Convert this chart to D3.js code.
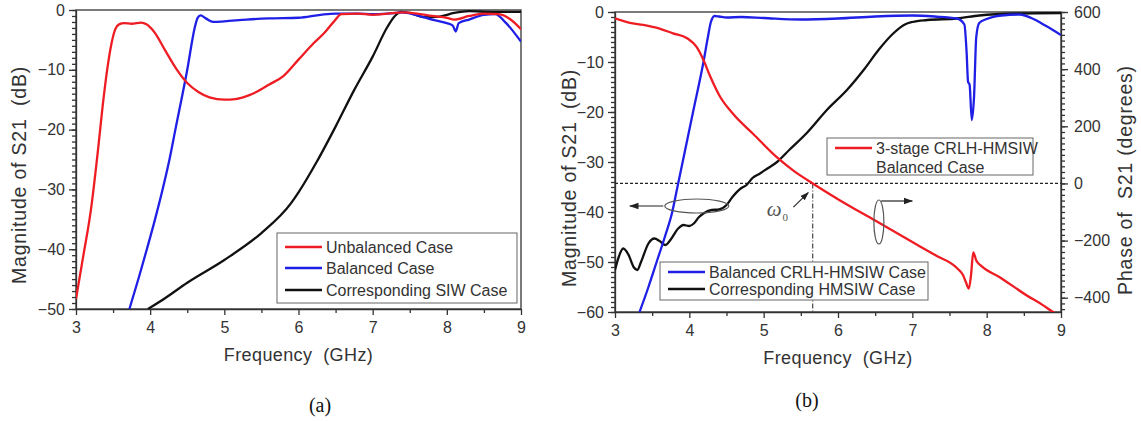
<!DOCTYPE html>
<html>
<head>
<meta charset="utf-8">
<script src="https://cdn.jsdelivr.net/npm/d3@7"></script>
<style>
  body { margin: 0; background: #fff; }
  svg text { font-family: "Liberation Sans", Arial, sans-serif; fill: #333; }
  .axis path, .axis line { stroke: #333; stroke-width: 1.3; }
  .axis text { font-size: 16px; fill: #333; }
</style>
</head>
<body>
<script>
// ---- data ----
var freqTicks  = [3, 4, 5, 6, 7, 8, 9];
var dbTicksA   = [-50, -40, -30, -20, -10, 0];
var dbTicksB   = [-60, -50, -40, -30, -20, -10, 0];
var phaseTicks = [-400, -200, 0, 200, 400, 600];

// (a) Unbalanced case
var unbalF = [3.0, 3.1, 3.2, 3.3, 3.36, 3.42, 3.48, 3.53, 3.58, 3.65, 3.75, 3.88, 3.95, 4.05, 4.2, 4.35, 4.5, 4.65, 4.8, 5.0, 5.15, 5.3, 5.45, 5.6, 5.8, 6.0, 6.2, 6.35, 6.48, 6.58, 6.8, 7.0, 7.2, 7.4, 7.6, 7.8, 8.0, 8.1, 8.3, 8.5, 8.7, 8.85, 9.0];
var unbalV = [-48.3, -41, -33.5, -23, -16, -10, -5.5, -3.2, -2.4, -2.2, -2.3, -2.1, -2.4, -3.6, -6.7, -9.8, -12.2, -13.7, -14.6, -15.0, -14.9, -14.4, -13.6, -12.5, -11.0, -8.3, -5.6, -3.8, -1.9, -0.7, -0.6, -0.8, -0.6, -0.4, -0.6, -1.0, -1.3, -1.6, -1.0, -0.6, -0.7, -1.5, -3.2];
// (a) Balanced case
var balF = [3.72, 3.85, 3.96, 4.07, 4.16, 4.25, 4.34, 4.5, 4.6, 4.64, 4.68, 4.75, 4.85, 5.0, 5.3, 5.6, 6.0, 6.3, 6.5, 6.8, 7.0, 7.2, 7.4, 7.6, 7.8, 8.0, 8.08, 8.12, 8.16, 8.3, 8.5, 8.65, 8.8, 9.0];
var balV = [-50, -44.6, -39.8, -34.8, -30.4, -25.6, -20, -10, -3, -1.3, -0.9, -1.4, -2.0, -1.9, -1.6, -1.4, -1.3, -0.8, -0.6, -0.6, -0.7, -0.6, -0.4, -0.9, -1.6, -2.2, -2.6, -3.6, -2.2, -1.6, -0.8, -0.7, -2.2, -5.3];
// (a) Corresponding SIW case
var siwF = [3.97, 4.2, 4.5, 5.0, 5.5, 5.9, 6.0, 6.25, 6.5, 6.75, 7.0, 7.2, 7.3, 7.38, 7.5, 7.7, 7.9, 8.1, 8.3, 8.6, 9.0];
var siwV = [-50, -48.2, -45.6, -41.8, -37.3, -32.3, -30.5, -25.3, -19.5, -13.4, -7.8, -2.8, -1.0, -0.3, -0.5, -1.2, -1.1, -0.5, -0.2, -0.3, -0.3];

// (b) Balanced CRLH-HMSIW case (magnitude)
var crlhF = [3.33, 3.45, 3.56, 3.67, 3.77, 3.84, 3.91, 4.05, 4.19, 4.25, 4.29, 4.34, 4.4, 4.5, 4.7, 5.0, 5.5, 6.0, 6.5, 7.0, 7.3, 7.6, 7.7, 7.73, 7.75, 7.77, 7.8, 7.83, 7.86, 7.9, 8.0, 8.2, 8.45, 8.6, 8.8, 9.0];
var crlhV = [-60, -55, -50, -45, -40, -35, -30, -20, -10, -5, -2, -0.8, -0.9, -1.1, -1.0, -1.2, -1.5, -1.3, -0.9, -0.7, -0.9, -1.3, -2.5, -8, -14, -14.5, -21.6, -17, -5, -2.2, -1.4, -0.7, -0.5, -1.2, -2.8, -4.6];
// (b) Corresponding HMSIW case (magnitude)
var hmsiwF = [3.0, 3.05, 3.11, 3.18, 3.25, 3.3, 3.35, 3.45, 3.53, 3.6, 3.68, 3.75, 3.85, 3.92, 4.0, 4.06, 4.13, 4.2, 4.3, 4.4, 4.5, 4.58, 4.7, 4.77, 4.85, 4.95, 5.05, 5.18, 5.35, 5.58, 5.85, 6.12, 6.35, 6.55, 6.75, 6.9, 7.0, 7.2, 7.6, 7.9, 8.4, 9.0];
var hmsiwV = [-51.6, -49, -47.3, -48.5, -51, -51.6, -50, -46.3, -45.3, -45.8, -46.6, -45.5, -43.3, -42.6, -42.8, -42.3, -41, -40.2, -39.6, -39.5, -38.6, -37, -35.2, -34.6, -33.2, -32.3, -31.3, -30, -27.5, -24.2, -19.6, -15.6, -11.5, -7.5, -4.2, -2.5, -2.0, -1.6, -1.3, -0.7, -0.3, -0.2];
// (b) 3-stage CRLH-HMSIW balanced case (phase, degrees)
var phaseF = [3.0, 3.2, 3.38, 3.6, 3.78, 3.97, 4.1, 4.19, 4.28, 4.41, 4.59, 4.86, 5.18, 5.4, 5.66, 6.0, 6.5, 7.0, 7.3, 7.6, 7.68, 7.72, 7.76, 7.79, 7.82, 7.86, 7.92, 8.18, 8.54, 8.75, 8.9, 9.0];
var phaseV = [578, 562, 555, 542, 525, 508, 477, 432, 375, 305, 243, 173, 91, 45, 0, -55, -130, -205, -250, -296, -320, -345, -368, -320, -241, -270, -287, -329, -392, -425, -451, -465];

var crossFreq = 5.66;

var RED = "#ee1d23", BLUE = "#1f1fe6", BLACK = "#111";

var svg = d3.select("body").append("svg")
  .attr("width", 1141)
  .attr("height", 421);

var defs = svg.append("defs");
defs.append("marker")
  .attr("id", "arr")
  .attr("viewBox", "0 0 10 10")
  .attr("refX", 9).attr("refY", 5)
  .attr("markerWidth", 8).attr("markerHeight", 8)
  .attr("orient", "auto")
  .append("path")
  .attr("d", "M0,1.5 L10,5 L0,8.5 z")
  .attr("fill", "#222");

function zip(f, v) {
  return f.map(function (d, i) { return [d, v[i]]; });
}

function drawPanel(id, x0, x1, y0, y1, yTicks, yDomain) {
  var xs = d3.scaleLinear().domain([3, 9]).range([x0, x1]);
  var ys = d3.scaleLinear().domain(yDomain).range([y1, y0]);

  defs.append("clipPath").attr("id", "clip" + id)
    .append("rect")
    .attr("x", x0).attr("y", y0)
    .attr("width", x1 - x0).attr("height", y1 - y0);

  var g = svg.append("g");

  // minor ticks
  var minorX = d3.range(3.5, 9, 1);
  g.append("g").attr("class", "axis")
    .attr("transform", "translate(0," + y1 + ")")
    .call(d3.axisBottom(xs).tickValues(minorX).tickSize(4).tickFormat(""))
    .select(".domain").remove();
  var minorY = d3.range(yDomain[0], yDomain[1] + 0.01, 1);
  g.append("g").attr("class", "axis")
    .attr("transform", "translate(" + x0 + ",0)")
    .call(d3.axisLeft(ys).tickValues(minorY).tickSize(4).tickFormat(""))
    .select(".domain").remove();

  g.append("g").attr("class", "axis")
    .attr("transform", "translate(0," + y1 + ")")
    .call(d3.axisBottom(xs).tickValues(freqTicks).tickSize(6).tickPadding(7)
      .tickSizeOuter(0).tickFormat(d3.format("d")));
  g.append("g").attr("class", "axis")
    .attr("transform", "translate(" + x0 + ",0)")
    .call(d3.axisLeft(ys).tickValues(yTicks).tickSize(7).tickPadding(4).tickSizeOuter(0));

  g.append("rect")
    .attr("x", x0).attr("y", y0)
    .attr("width", x1 - x0).attr("height", y1 - y0)
    .attr("fill", "none")
    .attr("stroke", "#333")
    .attr("stroke-width", 1.3);

  g.append("text")
    .attr("x", (x0 + x1) / 2).attr("y", y1 + 52)
    .attr("text-anchor", "middle")
    .style("font-size", "18px")
    .style("letter-spacing", "0.4px")
    .style("white-space", "pre")
    .text("Frequency  (GHz)");

  return { xs: xs, ys: ys, g: g, clip: "url(#clip" + id + ")" };
}

function drawLine(p, ys, f, v, color) {
  var line = d3.line()
    .x(function (d) { return p.xs(d[0]); })
    .y(function (d) { return ys(d[1]); })
    .curve(d3.curveMonotoneX);
  p.g.append("path")
    .datum(zip(f, v))
    .attr("clip-path", p.clip)
    .attr("fill", "none")
    .attr("stroke", color)
    .attr("stroke-width", 2.3)
    .attr("stroke-linejoin", "round")
    .attr("d", line);
}

function drawLegend(x, y, w, h, rows) {
  var lg = svg.append("g");
  lg.append("rect")
    .attr("x", x).attr("y", y).attr("width", w).attr("height", h)
    .attr("fill", "#fff").attr("stroke", "#666").attr("stroke-width", 1);
  rows.forEach(function (r) {
    if (r.color) {
      lg.append("line")
        .attr("x1", x + 8).attr("x2", x + 45)
        .attr("y1", r.y).attr("y2", r.y)
        .attr("stroke", r.color).attr("stroke-width", 2.4);
    }
    lg.append("text")
      .attr("x", x + 49).attr("y", r.y + 5.5)
      .style("font-size", "16px")
      .text(r.label);
  });
}

function yLabel(x, y, txt) {
  svg.append("text")
    .attr("transform", "translate(" + x + "," + y + ") rotate(-90)")
    .attr("text-anchor", "middle")
    .attr("dy", "0.35em")
    .style("font-size", "19.5px")
    .style("letter-spacing", "0.8px")
    .style("white-space", "pre")
    .text(txt);
}

// ---- panel (a) ----
var pa = drawPanel("a", 76, 521, 10, 309, dbTicksA, [-50, 0]);
drawLine(pa, pa.ys, siwF, siwV, BLACK);
drawLine(pa, pa.ys, balF, balV, BLUE);
drawLine(pa, pa.ys, unbalF, unbalV, RED);
yLabel(19, 175, "Magnitude of S21  (dB)");
drawLegend(277, 233, 240, 70, [
  { y: 247, color: RED,   label: "Unbalanced Case" },
  { y: 268, color: BLUE,  label: "Balanced Case" },
  { y: 290, color: BLACK, label: "Corresponding SIW Case" }
]);

// ---- panel (b) ----
var pb = drawPanel("b", 615, 1061, 12, 312, dbTicksB, [-60, 0]);
var yPhase = d3.scaleLinear().domain([-450, 600]).range([312, 12]);

// phase axis on the right
pb.g.append("g").attr("class", "axis")
  .attr("transform", "translate(1061,0)")
  .call(d3.axisRight(yPhase).tickValues(d3.range(-440, 601, 20)).tickSize(4).tickFormat(""))
  .select(".domain").remove();
pb.g.append("g").attr("class", "axis")
  .attr("transform", "translate(1061,0)")
  .call(d3.axisRight(yPhase).tickValues(phaseTicks).tickSize(7).tickPadding(6).tickSizeOuter(0));

// reference lines at 0 degrees and at the crossing frequency
pb.g.append("line")
  .attr("x1", pb.xs(3)).attr("x2", pb.xs(9))
  .attr("y1", yPhase(0)).attr("y2", yPhase(0))
  .attr("stroke", "#222").attr("stroke-width", 1.3)
  .attr("stroke-dasharray", "3,2");
pb.g.append("line")
  .attr("x1", pb.xs(crossFreq)).attr("x2", pb.xs(crossFreq))
  .attr("y1", yPhase(0)).attr("y2", 312)
  .attr("stroke", "#333").attr("stroke-width", 1.1)
  .attr("stroke-dasharray", "5,2,1,2");

drawLine(pb, pb.ys, hmsiwF, hmsiwV, BLACK);
drawLine(pb, pb.ys, crlhF, crlhV, BLUE);
drawLine(pb, yPhase, phaseF, phaseV, RED);

// ellipse + arrow marking the magnitude curves (left axis)
pb.g.append("ellipse")
  .attr("cx", pb.xs(4.1)).attr("cy", pb.ys(-38.8))
  .attr("rx", 32).attr("ry", 7)
  .attr("fill", "none").attr("stroke", "#555").attr("stroke-width", 1.2);
pb.g.append("line")
  .attr("x1", pb.xs(3.65)).attr("x2", pb.xs(3.2))
  .attr("y1", pb.ys(-38.8)).attr("y2", pb.ys(-38.8))
  .attr("stroke", "#222").attr("stroke-width", 1.2)
  .attr("marker-end", "url(#arr)");

// ellipse + arrow marking the phase curve (right axis)
pb.g.append("ellipse")
  .attr("cx", pb.xs(6.55)).attr("cy", yPhase(-135))
  .attr("rx", 5).attr("ry", 22)
  .attr("fill", "none").attr("stroke", "#555").attr("stroke-width", 1.2);
pb.g.append("line")
  .attr("x1", pb.xs(6.58)).attr("x2", pb.xs(7.0))
  .attr("y1", yPhase(-135) - 21).attr("y2", yPhase(-135) - 21)
  .attr("stroke", "#222").attr("stroke-width", 1.2)
  .attr("marker-end", "url(#arr)");

// omega_0 label with arrow
pb.g.append("line")
  .attr("x1", pb.xs(5.4)).attr("y1", yPhase(-83))
  .attr("x2", pb.xs(5.6)).attr("y2", yPhase(-32))
  .attr("stroke", "#222").attr("stroke-width", 1.1)
  .attr("marker-end", "url(#arr)");
var om = pb.g.append("text")
  .attr("x", pb.xs(5.04)).attr("y", yPhase(-115))
  .style("font-family", "'Liberation Serif', 'Times New Roman', serif")
  .style("font-style", "italic")
  .style("font-size", "21px")
  .style("fill", "#555");
om.append("tspan").text("\u03c9");
om.append("tspan").attr("dy", 5).attr("dx", 1)
  .style("font-size", "11px").style("font-style", "normal").text("0");

yLabel(569, 178, "Magnitude of S21  (dB)");
yLabel(1125, 180, "Phase of  S21 (degrees)");

drawLegend(827, 138, 206, 37, [
  { y: 148, color: RED, label: "3-stage CRLH-HMSIW" },
  { y: 167, color: null, label: "Balanced Case" }
]);
drawLegend(660, 262, 268, 38, [
  { y: 272, color: BLUE,  label: "Balanced CRLH-HMSIW Case" },
  { y: 289, color: BLACK, label: "Corresponding HMSIW Case" }
]);

// sub-figure captions
svg.append("text")
  .attr("x", 320).attr("y", 412)
  .attr("text-anchor", "middle")
  .style("font-family", "'Liberation Serif', 'Times New Roman', serif")
  .style("font-size", "20px")
  .style("fill", "#111")
  .text("(a)");
svg.append("text")
  .attr("x", 807).attr("y", 407)
  .attr("text-anchor", "middle")
  .style("font-family", "'Liberation Serif', 'Times New Roman', serif")
  .style("font-size", "20px")
  .style("fill", "#111")
  .text("(b)");
</script>
</body>
</html>
